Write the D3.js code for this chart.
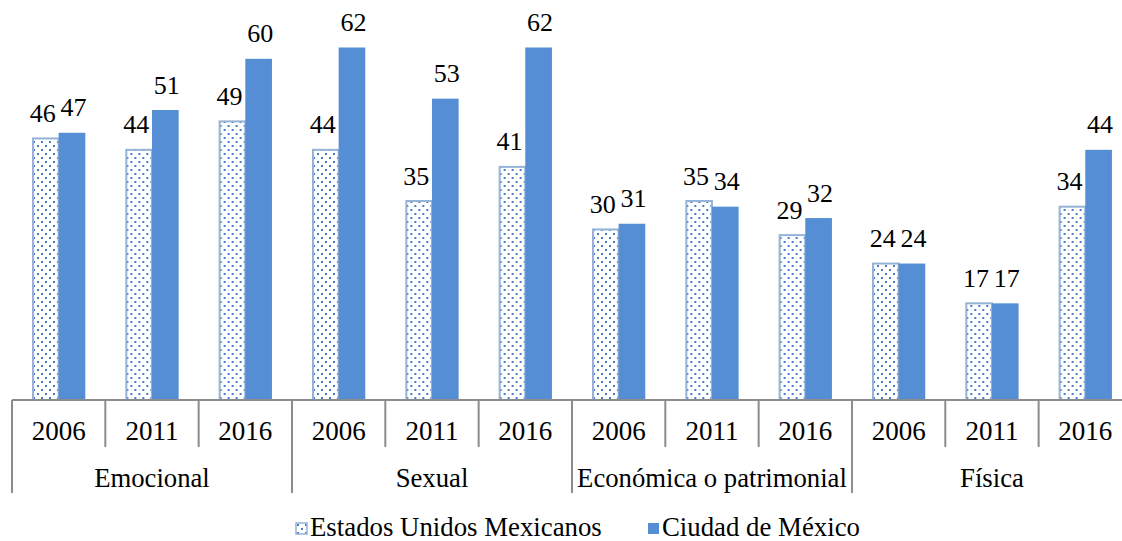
<!DOCTYPE html>
<html>
<head>
<meta charset="utf-8">
<script src="https://cdn.jsdelivr.net/npm/d3@7"></script>
<style>
  body { margin: 0; background: #fff; }
</style>
</head>
<body>
<div id="chart"></div>
<script>
var categories = ["Emocional", "Sexual", "Económica o patrimonial", "Física"];
var years = ["2006", "2011", "2016"];
var seriesNames = ["Estados Unidos Mexicanos", "Ciudad de México"];
var eum = [46, 44, 49, 44, 35, 41, 30, 35, 29, 24, 17, 34];
var cdmx = [47, 51, 60, 62, 53, 62, 31, 34, 32, 24, 17, 44];

(function() {
    var width = 1122, height = 541;
    var baseY = 400;
    var font = "Liberation Serif";

    var svg = d3.select("#chart").append("svg")
        .attr("width", width)
        .attr("height", height);

    var defs = svg.append("defs");
    var pat = defs.append("pattern")
        .attr("id", "dots")
        .attr("patternUnits", "userSpaceOnUse")
        .attr("width", 8)
        .attr("height", 8);
    pat.append("rect").attr("width", 8).attr("height", 8).attr("fill", "#fff");
    pat.append("rect").attr("x", 1).attr("y", 1).attr("width", 2).attr("height", 2).attr("fill", "#4a7cc6");
    pat.append("rect").attr("x", 5).attr("y", 5).attr("width", 2).attr("height", 2).attr("fill", "#4a7cc6");

    // one slot per category/year pair
    var slots = [];
    categories.forEach(function(c) {
        years.forEach(function(y) { slots.push(c + "|" + y); });
    });

    var x = d3.scaleBand().domain(slots).range([12, 12 + 93.33 * 12]);
    var xs = d3.scaleBand().domain(seriesNames).range([20, 73.3]);
    var y = d3.scaleLinear().domain([0, 70]).range([baseY, 2]);

    var rows = slots.map(function(s, i) { return { slot: s, v: [eum[i], cdmx[i]] }; });

    var groups = svg.selectAll(".grp").data(rows).enter().append("g")
        .attr("class", "grp")
        .attr("transform", function(d) { return "translate(" + x(d.slot) + ",0)"; });

    // EUM (dotted)
    groups.append("rect")
        .attr("x", xs(seriesNames[0]) + 1)
        .attr("y", function(d) { return y(d.v[0]); })
        .attr("width", xs.bandwidth() - 1)
        .attr("height", function(d) { return baseY - y(d.v[0]); })
        .attr("fill", "url(#dots)")
        .attr("stroke", "#95b3d7")
        .attr("stroke-width", 2);

    // CDMX (solid)
    groups.append("rect")
        .attr("x", xs(seriesNames[1]))
        .attr("y", function(d) { return y(d.v[1]); })
        .attr("width", xs.bandwidth())
        .attr("height", function(d) { return baseY - y(d.v[1]); })
        .attr("fill", "#558ed5");

    // data labels, nudged apart a little like the original
    var nudge = [-2.5, 1.5];
    [0, 1].forEach(function(k) {
        groups.append("text")
            .attr("x", xs(seriesNames[k]) + xs.bandwidth() / 2 + nudge[k])
            .attr("y", function(d) { return y(d.v[k]) - 16.5; })
            .attr("text-anchor", "middle")
            .style("font-family", font)
            .style("font-size", "26px")
            .text(function(d) { return d.v[k]; });
    });

    // axis line and ticks
    var axis = svg.append("g").attr("stroke", "#8c8c8c").attr("stroke-width", 2);
    axis.append("line")
        .attr("x1", x.range()[0]).attr("x2", x.range()[1])
        .attr("y1", baseY).attr("y2", baseY);
    d3.range(slots.length + 1).forEach(function(i) {
        var xx = x.range()[0] + i * x.step();
        axis.append("line")
            .attr("x1", xx).attr("x2", xx)
            .attr("y1", baseY)
            .attr("y2", i % years.length === 0 ? 493 : 447);
    });

    // year labels
    svg.selectAll(".yr").data(slots).enter().append("text")
        .attr("class", "yr")
        .attr("x", function(d) { return x(d) + x.bandwidth() / 2; })
        .attr("y", 440)
        .attr("text-anchor", "middle")
        .style("font-family", font)
        .style("font-size", "27px")
        .text(function(d) { return d.split("|")[1]; });

    // category labels
    svg.selectAll(".cat").data(categories).enter().append("text")
        .attr("class", "cat")
        .attr("x", function(d, i) { return x.range()[0] + (i * 3 + 1.5) * x.step(); })
        .attr("y", 487)
        .attr("text-anchor", "middle")
        .style("font-family", font)
        .style("font-size", "26.7px")
        .text(function(d) { return d; });

    // legend
    var legendX = [296, 648];
    var lg = svg.selectAll(".lg").data(seriesNames).enter().append("g")
        .attr("class", "lg")
        .attr("transform", function(d, i) { return "translate(" + legendX[i] + ",523)"; });
    lg.append("rect")
        .attr("width", 11).attr("height", 11)
        .attr("fill", function(d, i) { return i === 0 ? "url(#dots)" : "#558ed5"; })
        .attr("stroke", function(d, i) { return i === 0 ? "#95b3d7" : "none"; })
        .attr("stroke-width", 1.5);
    lg.append("text")
        .attr("x", 14)
        .attr("y", 13)
        .style("font-family", font)
        .style("font-size", "26.8px")
        .text(function(d) { return d; });
})();
</script>
</body>
</html>
